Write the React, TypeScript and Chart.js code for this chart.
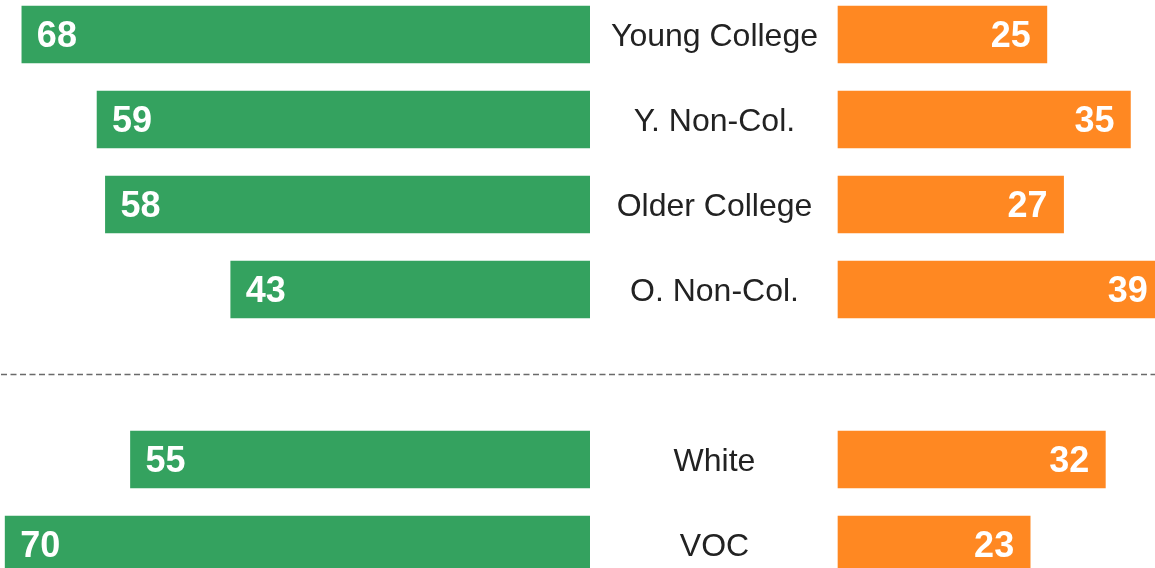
import React, { useEffect, useRef } from "react";
import { Chart, registerables } from "chart.js";

Chart.register(...registerables);

// ---- Data ----
const categories = ["Young College", "Y. Non-Col.", "Older College", "O. Non-Col.", "", "White", "VOC"];
const leftValues = [68, 59, 58, 43, null, 55, 70];
const rightValues = [25, 35, 27, 39, null, 32, 23];
const separatorIndex = 4;

const GREEN = "#34a25f";
const ORANGE = "#ff8822";
const FONT = "'Liberation Sans', Arial, Helvetica, sans-serif";

const LEFT_W = 590;
const RIGHT_W = 565;
const H = 568;
const MID_W = 248;
const PX_PER_UNIT = 8.355;

function separatorPlugin(offsetX: number) {
  return {
    id: "separator" + offsetX,
    beforeDatasetsDraw(chart: any) {
      const ctx = chart.ctx;
      const y = chart.scales.y.getPixelForValue(separatorIndex);
      ctx.save();
      ctx.strokeStyle = "#6a6a6a";
      ctx.lineWidth = 1.5;
      ctx.setLineDash([6, 3.5]);
      ctx.lineDashOffset = offsetX - 1;
      ctx.beginPath();
      ctx.moveTo(0, y);
      ctx.lineTo(chart.width, y);
      ctx.stroke();
      ctx.restore();
    },
  };
}

function valueLabelPlugin(side: "left" | "right") {
  return {
    id: "valueLabels" + side,
    afterDraw(chart: any) {
      const ctx = chart.ctx;
      const meta = chart.getDatasetMeta(0);
      const data = chart.data.datasets[0].data;
      ctx.save();
      ctx.fillStyle = "#ffffff";
      ctx.font = `bold 36px ${FONT}`;
      ctx.textBaseline = "middle";
      meta.data.forEach((bar: any, i: number) => {
        const v = data[i];
        if (v === null || v === undefined) return;
        if (side === "left") {
          ctx.textAlign = "left";
          ctx.fillText(String(v), bar.x + 15, bar.y + 3);
        } else {
          ctx.textAlign = "right";
          ctx.fillText(String(v), bar.x - 16, bar.y + 3);
        }
      });
      ctx.restore();
    },
  };
}

const categoryLabelPlugin = {
  id: "categoryLabels",
  afterDraw(chart: any) {
    const ctx = chart.ctx;
    const yScale = chart.scales.y;
    const cx = chart.chartArea.left / 2;
    ctx.save();
    ctx.fillStyle = "#222222";
    ctx.font = `32px ${FONT}`;
    ctx.textAlign = "center";
    ctx.textBaseline = "middle";
    chart.data.labels.forEach((label: string, i: number) => {
      if (!label) return;
      ctx.fillText(label, cx + 0.5, yScale.getPixelForValue(i) + 3);
    });
    ctx.restore();
  },
};

function makeConfig(values: (number | null)[], color: string, reverse: boolean, padLeft: number, width: number, plugins: any[]) {
  const areaW = width - padLeft;
  return {
    type: "bar" as const,
    data: {
      labels: categories,
      datasets: [
        {
          data: values,
          backgroundColor: color,
          borderWidth: 0,
          barThickness: 57,
          clip: false,
        },
      ],
    },
    options: {
      indexAxis: "y" as const,
      responsive: false,
      maintainAspectRatio: false,
      animation: false as const,
      layout: { padding: { top: 34.5, bottom: 23.5, left: padLeft, right: 0 } },
      scales: {
        x: { display: false, reverse, min: 0, max: areaW / PX_PER_UNIT },
        y: { display: false, offset: false },
      },
      plugins: {
        legend: { display: false },
        tooltip: { enabled: false },
      },
    },
    plugins,
  };
}

export default function App() {
  const leftRef = useRef<HTMLCanvasElement | null>(null);
  const rightRef = useRef<HTMLCanvasElement | null>(null);

  useEffect(() => {
    if (!leftRef.current || !rightRef.current) return;
    const left = new Chart(
      leftRef.current,
      makeConfig(leftValues, GREEN, true, 0, LEFT_W, [separatorPlugin(0), valueLabelPlugin("left")]) as any
    );
    const right = new Chart(
      rightRef.current,
      makeConfig(rightValues, ORANGE, false, MID_W, RIGHT_W, [
        separatorPlugin(LEFT_W),
        valueLabelPlugin("right"),
        categoryLabelPlugin,
      ]) as any
    );
    return () => {
      left.destroy();
      right.destroy();
    };
  }, []);

  return (
    <div style={{ position: "fixed", left: 0, top: 0, width: LEFT_W + RIGHT_W, height: H, background: "#ffffff" }}>
      <canvas
        ref={leftRef}
        width={LEFT_W}
        height={H}
        style={{ position: "absolute", left: 0, top: 0, width: LEFT_W, height: H }}
      />
      <canvas
        ref={rightRef}
        width={RIGHT_W}
        height={H}
        style={{ position: "absolute", left: LEFT_W, top: 0, width: RIGHT_W, height: H }}
      />
    </div>
  );
}
